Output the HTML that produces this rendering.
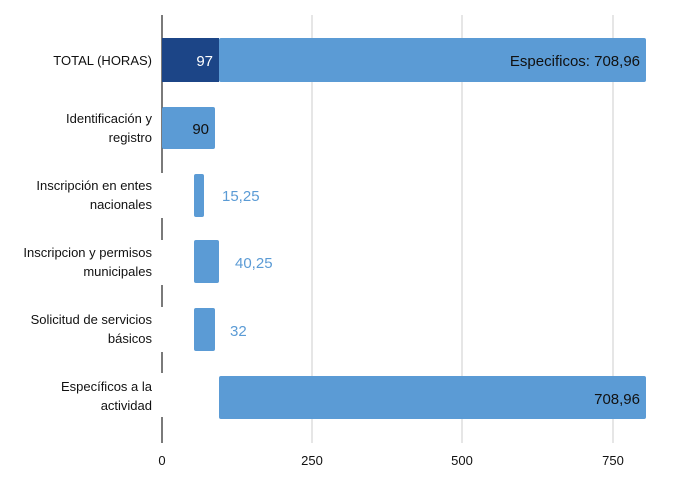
<!DOCTYPE html>
<html><head><style>
body{margin:0;background:#fff;}
svg text{font-family:"Liberation Sans",sans-serif;}
</style></head><body>
<svg width="688" height="481" xmlns="http://www.w3.org/2000/svg">
<g stroke="#ccc" stroke-width="1">
<line x1="312" y1="15" x2="312" y2="443"/>
<line x1="462" y1="15" x2="462" y2="443"/>
<line x1="613" y1="15" x2="613" y2="443"/>
</g>
<g stroke="#333" stroke-width="1.3">
<line x1="162" y1="15" x2="162" y2="173"/>
<line x1="162" y1="218" x2="162" y2="240"/>
<line x1="162" y1="285" x2="162" y2="307"/>
<line x1="162" y1="352" x2="162" y2="373"/>
<line x1="162" y1="417" x2="162" y2="443"/>
</g>
<rect x="162" y="38" width="57" height="44" fill="#1c4587"/>
<rect x="219" y="38" width="427" height="44" rx="2" fill="#5b9bd5"/>
<rect x="162" y="107" width="53" height="42" rx="2" fill="#5b9bd5"/>
<rect x="194" y="174" width="10" height="43" rx="2" fill="#5b9bd5"/>
<rect x="194" y="240" width="25" height="43" rx="2" fill="#5b9bd5"/>
<rect x="194" y="308" width="21" height="43" rx="2" fill="#5b9bd5"/>
<rect x="219" y="376" width="427" height="43" rx="2" fill="#5b9bd5"/>
<g font-size="15">
<text x="213" y="66" fill="#fff" text-anchor="end">97</text>
<text x="640" y="66" fill="#111" text-anchor="end">Especificos: 708,96</text>
<text x="209" y="134" fill="#111" text-anchor="end">90</text>
<text x="222" y="201" fill="#5b9bd5">15,25</text>
<text x="235" y="268" fill="#5b9bd5">40,25</text>
<text x="230" y="336" fill="#5b9bd5">32</text>
<text x="640" y="404" fill="#111" text-anchor="end">708,96</text>
</g>
<g font-size="13" fill="#111" text-anchor="end">
<text x="152" y="65">TOTAL (HORAS)</text>
<text x="152" y="123">Identificación y</text>
<text x="152" y="142">registro</text>
<text x="152" y="190">Inscripción en entes</text>
<text x="152" y="209">nacionales</text>
<text x="152" y="257">Inscripcion y permisos</text>
<text x="152" y="276">municipales</text>
<text x="152" y="324">Solicitud de servicios</text>
<text x="152" y="343">básicos</text>
<text x="152" y="391">Específicos a la</text>
<text x="152" y="410">actividad</text>
</g>
<g font-size="13" fill="#111" text-anchor="middle">
<text x="162" y="465">0</text>
<text x="312" y="465">250</text>
<text x="462" y="465">500</text>
<text x="613" y="465">750</text>
</g>
</svg>
</body></html>
